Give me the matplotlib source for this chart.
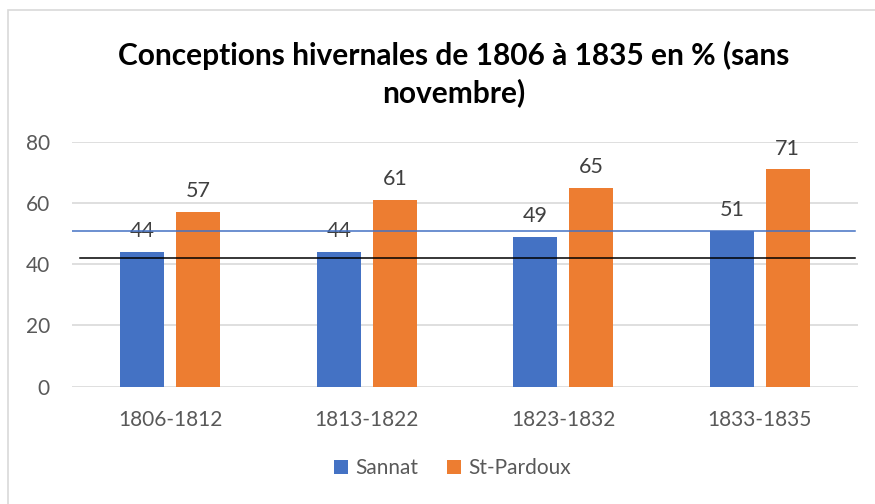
import matplotlib.pyplot as plt
import numpy as np
from matplotlib.patches import Rectangle

periods = ["1806-1812", "1813-1822", "1823-1832", "1833-1835"]
sannat = [44, 44, 49, 51]
st_pardoux = [57, 61, 65, 71]
ref_blue = 51
ref_black = 42

plt.rcParams['font.family'] = ['Lato', 'DejaVu Sans']

fig = plt.figure(figsize=(8.75, 5.04), dpi=100)
ax = fig.add_axes([0.0823, 0.2327, 0.8983, 0.4861])

# figure border
fig.patches.append(Rectangle((8 / 875, -0.1), 2, 1 - 10 / 504 + 0.1,
                             transform=fig.transFigure, fill=False,
                             edgecolor="#D9D9D9", linewidth=1.2))

x = np.arange(len(periods))
w = 0.224
off = 0.1425
b1 = ax.bar(x - off, sannat, w, color="#4472C4", label="Sannat", zorder=2)
b2 = ax.bar(x + off, st_pardoux, w, color="#ED7D31", label="St-Pardoux", zorder=2)

for bars in (b1, b2):
    for r in bars:
        ax.text(r.get_x() + r.get_width() / 2, r.get_height() + 3.5,
                "%d" % r.get_height(), ha="center", va="bottom",
                fontsize=15.5, color="#404040", zorder=1)

ax.axhline(ref_blue, xmin=0, xmax=0.996, color="#4472C4", linewidth=1.1, zorder=3)
ax.axhline(ref_black, xmin=0.01, xmax=0.996, color="black", linewidth=1.1, zorder=3)

ax.set_xlim(-0.5, 3.5)
ax.set_ylim(0, 80)
ax.set_yticks([0, 20, 40, 60, 80])
ax.set_xticks(x)
ax.set_xticklabels(periods)
ax.grid(axis="y", color="#D9D9D9", linewidth=1.2, zorder=0)
ax.set_axisbelow(True)
for s in ax.spines.values():
    s.set_visible(False)
ax.tick_params(length=0, labelsize=15, colors="#595959")
ax.tick_params(axis="y", pad=16)
ax.tick_params(axis="x", pad=17)

fig.text(0.518, 1 - 55 / 504, "Conceptions hivernales de 1806 à 1835 en % (sans",
         ha="center", va="center", fontsize=21.5, fontweight="bold", color="black")
fig.text(0.518, 1 - 93 / 504, "novembre)",
         ha="center", va="center", fontsize=21.5, fontweight="bold", color="black")

fig.legend(handles=[b1, b2], loc="center", bbox_to_anchor=(0.517, 1 - 468 / 504),
           ncol=2, frameon=False, fontsize=15, handlelength=0.65, handleheight=0.65,
           handletextpad=0.35, columnspacing=1.4, labelcolor="#595959")

fig.savefig("out.png", dpi=100)
